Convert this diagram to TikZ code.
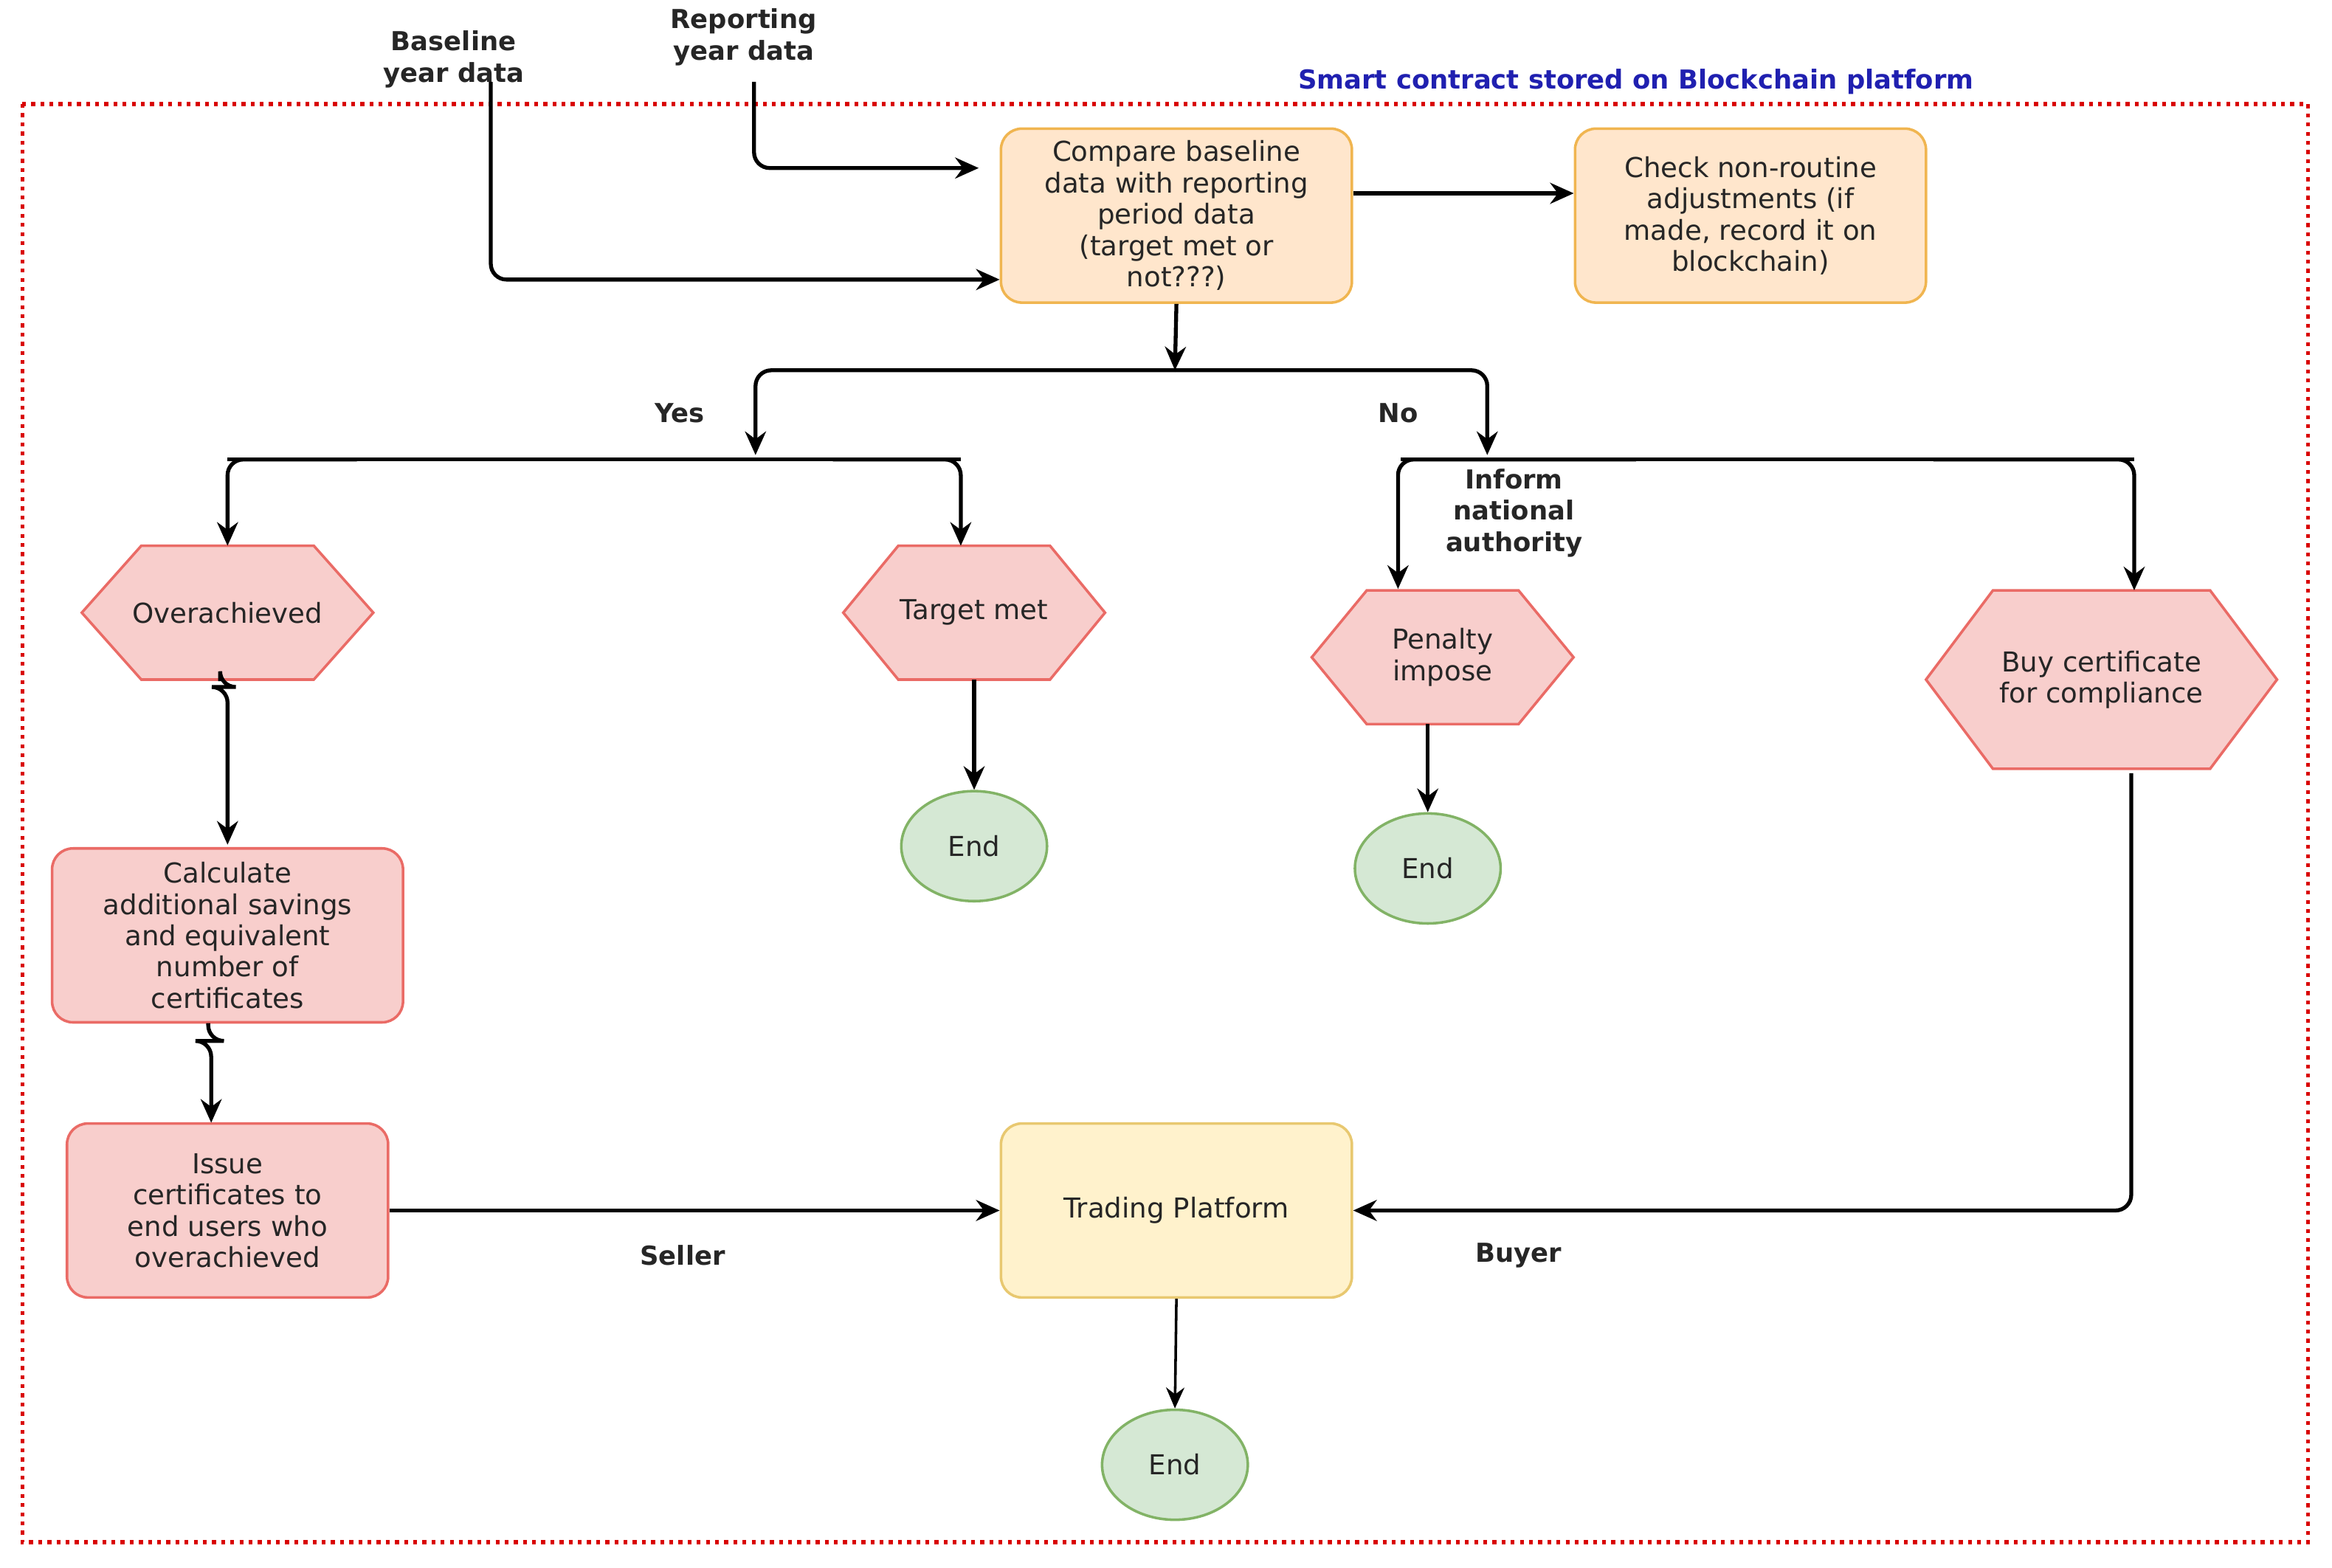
\documentclass[tikz,border=0pt]{standalone}
\usepackage{fontspec}
\setmainfont{DejaVu Sans}
\usetikzlibrary{calc,arrows.meta,shapes.geometric}
\definecolor{orF}{HTML}{FFE6CC}\definecolor{orD}{HTML}{F0B550}
\definecolor{rdF}{HTML}{F8CECC}\definecolor{rdD}{HTML}{EA6B66}
\definecolor{ylF}{HTML}{FFF2CC}\definecolor{ylD}{HTML}{E8C870}
\definecolor{grF}{HTML}{D5E8D4}\definecolor{grD}{HTML}{82B366}
\definecolor{ttl}{HTML}{2020B0}
\begin{document}
\begin{tikzpicture}[x=0.02cm,y=-0.02cm,
  every node/.style={font=\fontsize{10.5}{12}\selectfont, align=center, text=black!85},
  box/.style={rounded corners=8pt, line width=1pt, minimum width=4.72cm, minimum height=2.34cm, inner sep=2pt},
  org/.style={box, fill=orF, draw=orD},
  red/.style={box, fill=rdF, draw=rdD},
  yel/.style={box, fill=ylF, draw=ylD},
  endn/.style={ellipse, fill=grF, draw=grD, line width=1pt, minimum width=1.96cm, minimum height=1.48cm},
  hexn/.style={draw=none, inner sep=0pt},
  hexl/.style={fill=rdF, draw=rdD, line width=1pt},
  lab/.style={font=\bfseries\fontsize{10}{12}\selectfont},
  arr/.style={line width=1.5pt, -{Stealth[length=9pt,width=8pt]}, rounded corners=6pt},
  ln/.style={line width=1.5pt, rounded corners=6pt}]
\useasboundingbox (0,0) rectangle (1568,1054);
\draw[red!85!black, dotted, line width=1.5pt] (15,70) rectangle (1552,1037);
\node[font=\bfseries\fontsize{10}{12}\selectfont, text=ttl] (title) at (1100,55) {Smart contract stored on Blockchain platform};

\newcommand\hexa[6]{%
  \draw[hexl] (#2-#4,#3) -- (#2-#4+#6,#3-#5) -- (#2+#4-#6,#3-#5) -- (#2+#4,#3) -- (#2+#4-#6,#3+#5) -- (#2-#4+#6,#3+#5) -- cycle;}
\hexa{ov}{153}{412}{98}{45}{40}
\hexa{tm}{655}{412}{88}{45}{37}
\hexa{pn}{970}{442}{88}{45}{37}
\hexa{bc}{1413}{457}{118}{60}{45}
\node[hexn] (over) at (153,412) {Overachieved};
\node[hexn] (target) at (655,412) {Target met};
\node[hexn] (pen) at (970,442) {Penalty\\impose};
\node[hexn] (buy) at (1413,457) {Buy certificate\\for compliance};

\node[org] (cmp) at (791,145) {Compare baseline\\data with reporting\\period data\\(target met or\\not???)};
\node[org] (chk) at (1177,145) {Check non-routine\\adjustments (if\\made, record it on\\blockchain)};
\node[red] (calc) at (153,629) {Calculate\\additional savings\\and equivalent\\number of\\certificates};
\node[red, minimum width=4.32cm] (iss) at (153,814) {Issue\\certificates to\\end users who\\overachieved};
\node[yel] (trd) at (791,814) {Trading Platform};
\node[endn] (e1) at (655,569) {End};
\node[endn] (e2) at (960,584) {End};
\node[endn] (e3) at (790,985) {End};

\node[lab] (bl) at (305,40) {Baseline\\year data};
\node[lab] (rp) at (500,25) {Reporting\\year data};
\node[lab] (yes) at (457,278) {Yes};
\node[lab] (no) at (940,278) {No};
\node[lab] (inf) at (1018,345) {Inform\\national\\authority};
\node[lab] (sel) at (459,844) {Seller};
\node[lab] (buyr) at (1021,844) {Buyer};

\coordinate (bls) at (330,55);
\coordinate (rps) at (507,55);
\coordinate (split) at (790,249);
\coordinate (yb) at (508,306);
\coordinate (nb) at (1000,306);

\draw[arr] (bls) |- (cmp.west |- 0,188);
\draw[arr] (rps) |- ([xshift=-8pt]cmp.west |- 0,113);
\draw[arr] (cmp.east |- 0,130) -- (chk.west |- 0,130);
\draw[arr] (cmp.south) -- (split);
\draw[arr] (split) -| (yb);
\draw[arr] (split) -| (nb);
\draw[ln] (153,309) -- (646,309);
\draw[arr] (240,309) -| (153,367);
\draw[arr] (560,309) -| (646,367);
\draw[ln] (942,309) -- (1435,309);
\draw[arr] (1100,309) -| (940,396);
\draw[arr] (1300,309) -| (1435,397);
\draw[arr] (148,458) -- (148,462) -| (153,568);
\draw[arr] (140,688) -- (140,700) -| (142,755);
\draw[arr] (655,457) -- (e1.north);
\draw[arr] (960,487) -- (e2.north);
\draw[arr] (iss.east) -- (trd.west);
\draw[arr] (1433,520) |- (trd.east);
\draw[line width=1pt, -{Stealth[length=8pt,width=7pt]}] (trd.south) -- (e3.north);
\end{tikzpicture}
\end{document}
